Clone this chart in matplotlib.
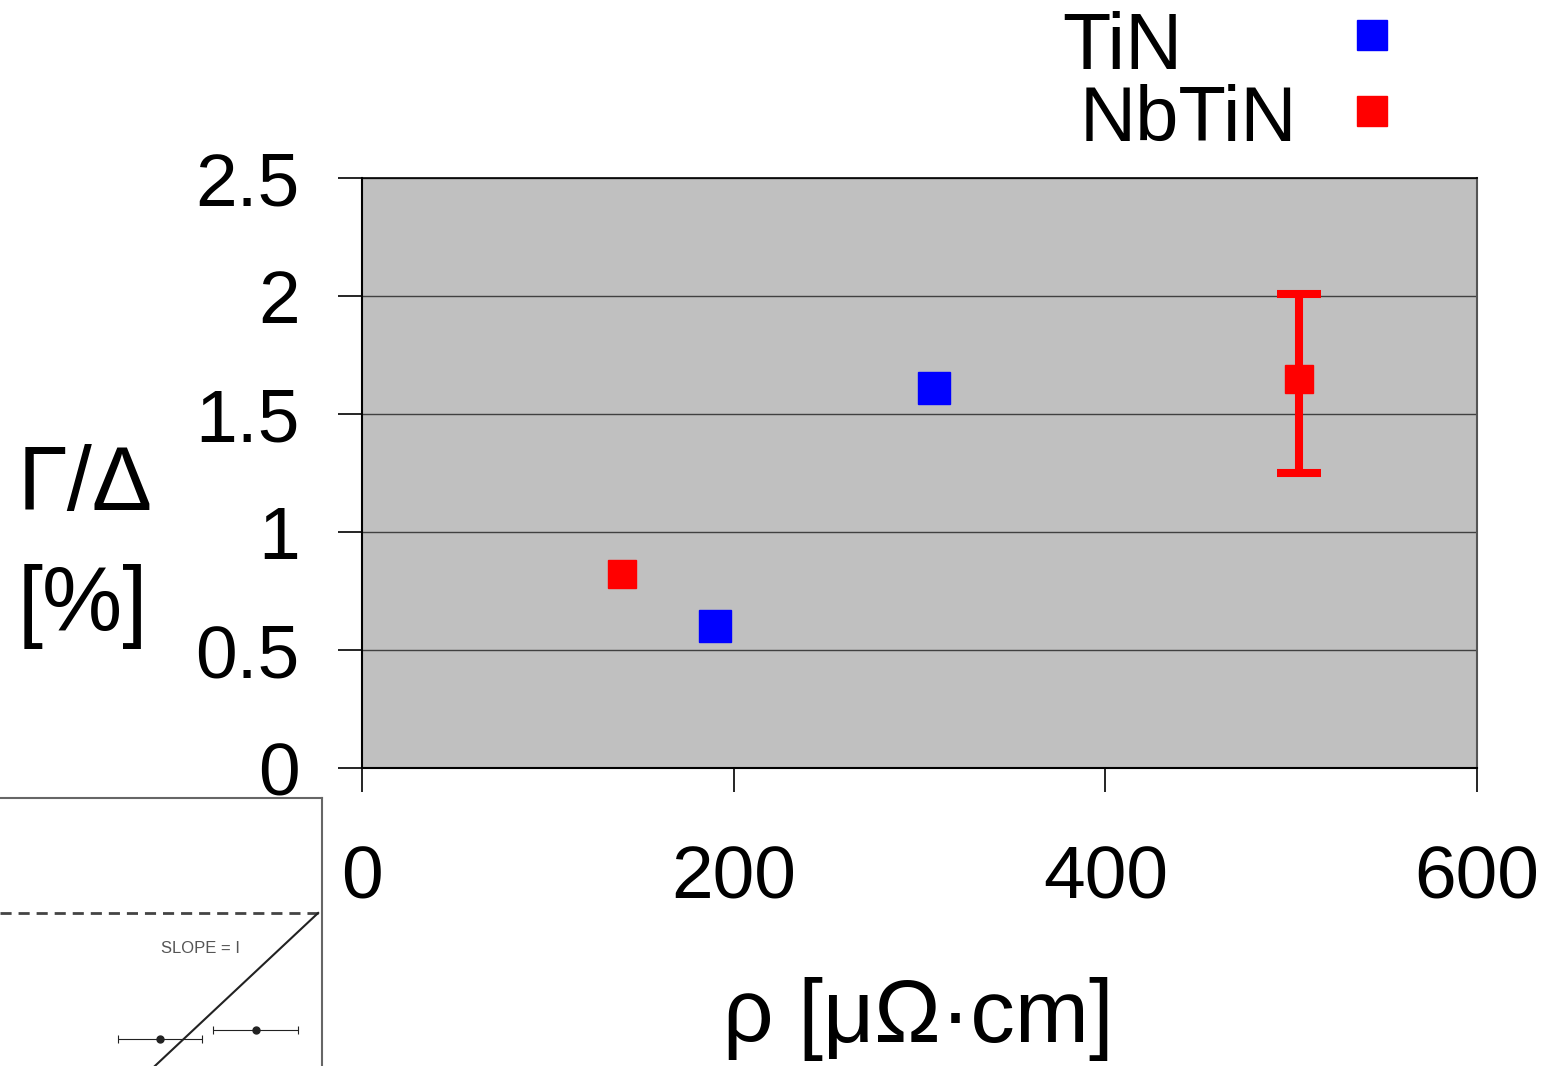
import matplotlib
matplotlib.use("Agg")
import matplotlib.pyplot as plt

plt.rcParams['font.family'] = ['Liberation Sans', 'DejaVu Sans']

# data
tin_rho = [190, 308]
tin_gamma = [0.60, 1.61]
nbtin_rho = [140, 504]
nbtin_gamma = [0.82, 1.65]
# only the 504 point carries an error bar
err_rho = [504]
err_gamma = [1.65]
err_lo = [0.40]
err_hi = [0.36]

xticks = [0, 200, 400, 600]
yticks = [0, 0.5, 1, 1.5, 2, 2.5]
ytick_labels = ['0', '0.5', '1', '1.5', '2', '2.5']

# fragment of the neighbouring figure (its own unit square)
frag_dash_y = 0.571
frag_line_x = [0.988, 0.481]
frag_line_y = [0.571, 0.0]
frag_pts_x = [0.497, 0.795]
frag_pts_y = [0.100, 0.134]
frag_pts_err = [0.130, 0.132]

fig = plt.figure(figsize=(15.47, 10.66), dpi=100)
ax = fig.add_axes([362/1547, 1 - 768/1066, 1115/1547, 590/1066])
ax.set_facecolor('#c0c0c0')

ax.errorbar(err_rho, err_gamma, yerr=[err_lo, err_hi], fmt='none',
            ecolor='#ff0000', elinewidth=5.8, capsize=16, capthick=5.8, zorder=3)
ax.plot(tin_rho, tin_gamma, 's', color='#0000ff', ms=23, mec='#0000ff', zorder=4)
ax.plot(nbtin_rho, nbtin_gamma, 's', color='#ff0000', ms=20, mec='#ff0000', zorder=4)

ax.set_xlim(0, 600)
ax.set_ylim(0, 2.5)
ax.set_xticks(xticks)
ax.set_yticks(yticks)
ax.set_yticklabels(ytick_labels)
ax.tick_params(axis='both', direction='out', length=17, width=1.2, labelsize=54)
ax.tick_params(axis='y', pad=28)
ax.tick_params(axis='x', pad=38)
ax.yaxis.grid(True, color='#404040', lw=1)
ax.set_axisbelow(True)
for s in ['left', 'bottom']:
    ax.spines[s].set_color('black')
    ax.spines[s].set_linewidth(1.5)
ax.spines['top'].set_color('black')
ax.spines['top'].set_linewidth(1.2)
ax.spines['right'].set_color('#555555')
ax.spines['right'].set_linewidth(1.5)

# axis labels
fig.text(18/1547, 1 - 510/1066, 'Γ/Δ', fontsize=65, ha='left', va='baseline')
fig.text(18/1547, 1 - 630/1066, '[%]', fontsize=65, ha='left', va='baseline')
fig.text(918/1547, 1 - 1042/1066, 'ρ [μΩ·cm]', fontsize=64, ha='center', va='baseline')

# legend
fig.text(1062/1547, 1 - 69/1066, 'TiN', fontsize=57, ha='left', va='baseline')
fig.text(1080/1547, 1 - 141/1066, 'NbTiN', fontsize=56, ha='left', va='baseline')
fig.add_artist(plt.Line2D([1372/1547], [1 - 35/1066], marker='s', ms=21,
                          color='#0000ff', transform=fig.transFigure))
fig.add_artist(plt.Line2D([1372/1547], [1 - 111/1066], marker='s', ms=21,
                          color='#ff0000', transform=fig.transFigure))

# clipped piece of another figure in the lower left corner
ins = fig.add_axes([0, 0, 322/1547, 268/1066])
ins.set_xlim(0, 1)
ins.set_ylim(0, 1)
ins.set_xticks([])
ins.set_yticks([])
ins.spines['left'].set_visible(False)
ins.spines['bottom'].set_visible(False)
ins.spines['top'].set_color('#666666')
ins.spines['right'].set_color('#666666')
ins.spines['top'].set_linewidth(1.5)
ins.spines['right'].set_linewidth(1.5)
ins.axhline(frag_dash_y, color='#444444', lw=2, ls=(0, (4, 2.5)))
ins.plot(frag_line_x, frag_line_y, color='#222222', lw=1.5)
ins.errorbar(frag_pts_x, frag_pts_y, xerr=frag_pts_err, fmt='o', color='#222222',
             ms=5, elinewidth=0.8, capsize=3, capthick=0.8)
ins.text(0.50, 0.44, 'SLOPE = I', fontsize=12, color='#555555', ha='left', va='center')

fig.savefig('out.png', dpi=100)
